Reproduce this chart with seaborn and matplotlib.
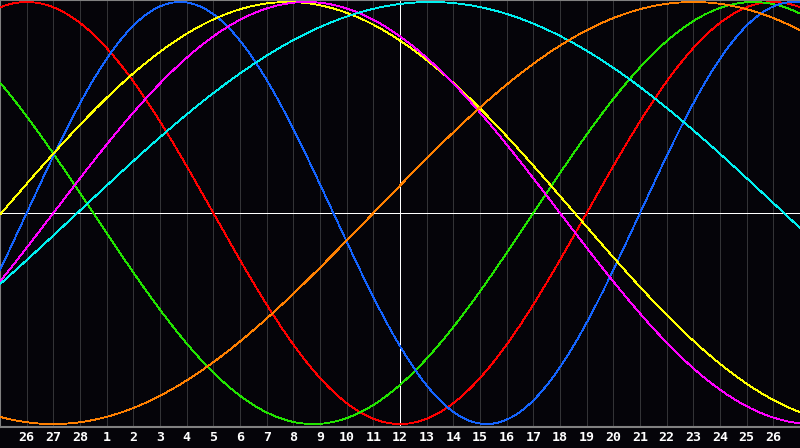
import numpy as np
import pandas as pd
import matplotlib
matplotlib.use("Agg")
import matplotlib.pyplot as plt
import seaborn as sns

# ---- data -------------------------------------------------------------
# day labels along the bottom (grid positions 1..29)
day_labels = ["26", "27", "28"] + [str(d) for d in range(1, 27)]
today_index = 15            # position of the white "today" line ("12")

# biorhythm cycles: name, period (days), day index of upward zero crossing
cycle_names = ["Emotional", "Intellectual", "Physical", "Aesthetic",
               "Intuitive", "Spiritual", "Awareness"]
cycle_periods = [28, 33, 23, 43, 38, 53, 48]
cycle_zero_day = [22.0, 20.0, 1.0, 0.05, 2.0, 2.9, 14.0]
cycle_colors = ["#ff0000", "#22e400", "#1464ff", "#ffff00",
                "#ff00ff", "#00f0f0", "#ff8000"]

# ---- build table ------------------------------------------------------
k = np.linspace(0, 30, 1201)
rows = []
for name, per, z in zip(cycle_names, cycle_periods, cycle_zero_day):
    v = np.sin(2 * np.pi * (k - z) / per)
    rows.append(pd.DataFrame({"day": k, "value": v, "cycle": name}))
df = pd.concat(rows, ignore_index=True)

# ---- figure -----------------------------------------------------------
sns.set_style("dark")
bg = "#050409"
fig = plt.figure(figsize=(8.0, 4.48), dpi=100, facecolor=bg)
ax = fig.add_axes([0, 21 / 448, 1, 427 / 448])
ax.set_facecolor(bg)
ax.grid(False)

# grid lines
for i in range(1, len(day_labels) + 1):
    ax.axvline(i, color="#333336", lw=0.72, zorder=0.5, antialiased=False)

ax.axhline(0, color="white", lw=0.72, zorder=1, antialiased=False)
ax.axvline(today_index, color="white", lw=0.72, zorder=1, antialiased=False)

sns.lineplot(data=df, x="day", y="value", hue="cycle",
             hue_order=cycle_names,
             palette=dict(zip(cycle_names, cycle_colors)),
             linewidth=0.6, legend=False, ax=ax, zorder=3,
             antialiased=False, estimator=None, sort=True)

ax.set_xlim(0, 30)
ax.set_ylim(-1.014, 1.0095)
ax.set_xticks(range(1, len(day_labels) + 1))
ax.set_xticklabels(day_labels)
ax.set_yticks([])
ax.set_xlabel("")
ax.set_ylabel("")
ax.grid(False)
ax.tick_params(axis="x", length=0, pad=3, colors="white", labelsize=9.5)
for lab in ax.get_xticklabels():
    lab.set_fontfamily("DejaVu Sans Mono")
    lab.set_fontweight("bold")
    lab.set_color("white")

for s in ["left", "top", "bottom"]:
    ax.spines[s].set_visible(True)
    ax.spines[s].set_color("#808080")
    ax.spines[s].set_linewidth(1.5)
ax.spines["right"].set_visible(False)

fig.savefig("out.png", dpi=100, facecolor=bg)
